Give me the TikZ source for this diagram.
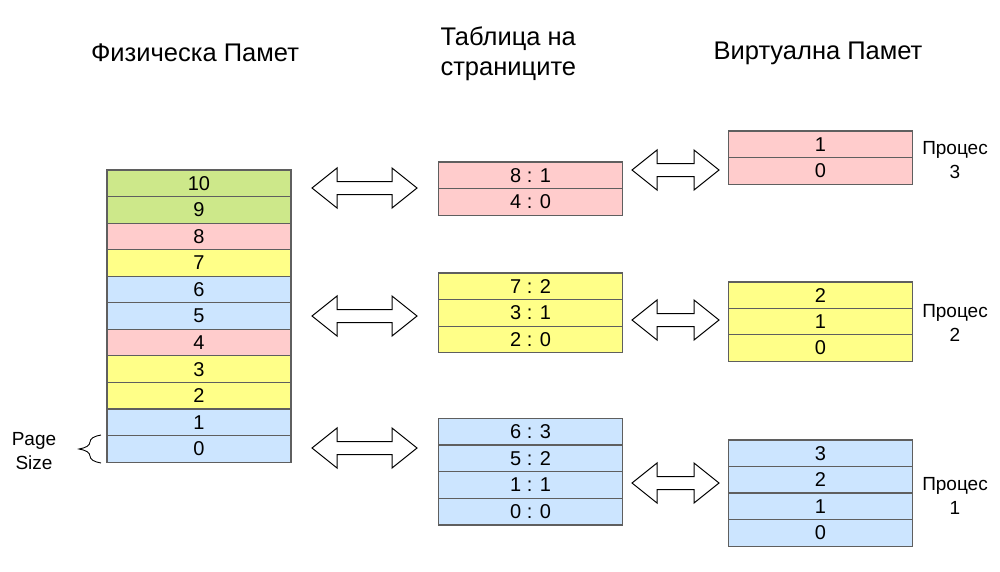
\documentclass[tikz,border=0pt]{standalone}
\usepackage{fontspec}
\setmainfont{Liberation Sans}
\usetikzlibrary{decorations.pathreplacing}
\definecolor{cgreen}{RGB}{205,232,138}
\definecolor{cpink}{RGB}{255,204,204}
\definecolor{cyellow}{RGB}{255,255,136}
\definecolor{cblue}{RGB}{204,229,255}
\definecolor{cline}{RGB}{95,95,95}
\newcommand\blockarrow[3]{%
  \draw[arrowshape] (#1,#3) -- ({#1+25},{#3-20}) -- ({#1+25},{#3-6.5}) -- ({#2-25},{#3-6.5})
    -- ({#2-25},{#3-20}) -- (#2,#3) -- ({#2-25},{#3+20}) -- ({#2-25},{#3+6.5})
    -- ({#1+25},{#3+6.5}) -- ({#1+25},{#3+20}) -- cycle;}
\begin{document}
\begin{tikzpicture}[x=1pt,y=-1pt,
  cell/.style={draw=cline, line width=1.2pt, minimum width=184pt, minimum height=26.6pt,
    inner sep=0pt, font=\fontsize{20}{22}\selectfont},
  arrowshape/.style={draw=black, fill=white, line width=1pt, line join=miter},
  head/.style={font=\fontsize{25.5}{30}\selectfont},
  lab/.style={font=\fontsize{19}{24}\selectfont, align=center}]
\useasboundingbox (0,0) rectangle (1000,571);
% headers
\node[head] (hphys) at (195,53) {Физическа Памет};
\node[head, align=left, anchor=west] (htab) at (437,54) {Таблица на\\страниците};
\node[head] (hvirt) at (818,53) {Виртуална Памет};
% physical memory
\foreach \lab/\col [count=\k from 0] in {10/cgreen,9/cgreen,8/cpink,7/cyellow,6/cblue,5/cblue,4/cpink,3/cyellow,2/cyellow,1/cblue,0/cblue}
  \node[cell, fill=\col] (phys\lab) at (199,{183.3+\k*26.55}) {\lab};
% page tables
\foreach \lab [count=\k from 0] in {8 : 1,4 : 0}
  \node[cell, fill=cpink] (tc\k) at (530.5,{175.3+\k*26.6}) {\lab};
\foreach \lab [count=\k from 0] in {7 : 2,3 : 1,2 : 0}
  \node[cell, fill=cyellow] (tb\k) at (530.5,{286.3+\k*26.6}) {\lab};
\foreach \lab [count=\k from 0] in {6 : 3,5 : 2,1 : 1,0 : 0}
  \node[cell, fill=cblue] (ta\k) at (530.5,{431.5+\k*26.7}) {\lab};
% virtual memory
\foreach \lab [count=\k from 0] in {1,0}
  \node[cell, fill=cpink] (vc\k) at (820.5,{144.3+\k*26.5}) {\lab};
\foreach \lab [count=\k from 0] in {2,1,0}
  \node[cell, fill=cyellow] (vb\k) at (820.5,{295.3+\k*26.4}) {\lab};
\foreach \lab [count=\k from 0] in {3,2,1,0}
  \node[cell, fill=cblue] (va\k) at (820.5,{453.3+\k*26.5}) {\lab};
% process labels
\node[lab] (p3) at (955,160) {Процес\\3};
\node[lab] (p2) at (955,323) {Процес\\2};
\node[lab] (p1) at (955,496) {Процес\\1};
% page size
\node[lab] (ps) at (34,451) {Page\\Size};
\draw[decorate, decoration={brace, amplitude=22pt, aspect=0.5}, line width=0.9pt]
  (101,463) -- (101,435);
% arrows
\blockarrow{312}{417}{188}
\blockarrow{312}{417}{316}
\blockarrow{312}{417}{448}
\blockarrow{632}{719}{170}
\blockarrow{632}{719}{320}
\blockarrow{632}{719}{483}
\end{tikzpicture}
\end{document}
